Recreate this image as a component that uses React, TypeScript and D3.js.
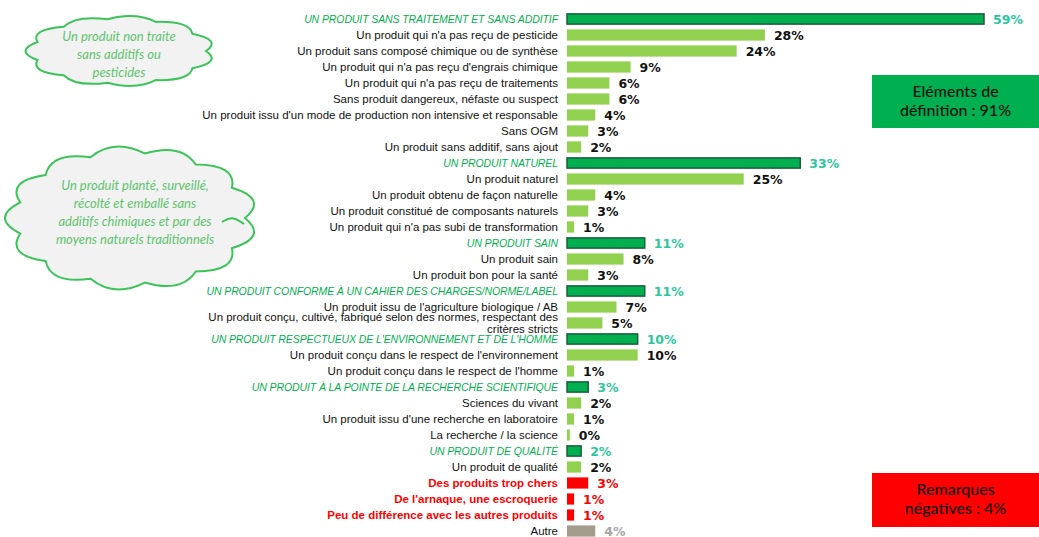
import React, { useRef, useEffect } from "react";
import * as d3 from "d3";

// libellés, valeurs (%) et type de chaque ligne
const labels = [
  "UN PRODUIT SANS TRAITEMENT ET SANS ADDITIF",
  "Un produit qui n'a pas reçu de pesticide",
  "Un produit sans composé chimique ou de synthèse",
  "Un produit qui n'a pas reçu d'engrais chimique",
  "Un produit qui n'a pas reçu de traitements",
  "Sans produit dangereux, néfaste ou suspect",
  "Un produit issu d'un mode de production non intensive et responsable",
  "Sans OGM",
  "Un produit sans additif, sans ajout",
  "UN PRODUIT NATUREL",
  "Un produit naturel",
  "Un produit obtenu de façon naturelle",
  "Un produit constitué de composants naturels",
  "Un produit qui n'a pas subi de transformation",
  "UN PRODUIT SAIN",
  "Un produit sain",
  "Un produit bon pour la santé",
  "UN PRODUIT CONFORME À UN CAHIER DES CHARGES/NORME/LABEL",
  "Un produit issu de l'agriculture biologique / AB",
  "Un produit conçu, cultivé, fabriqué selon des normes, respectant des|critères stricts",
  "UN PRODUIT RESPECTUEUX DE L'ENVIRONNEMENT ET DE L'HOMME",
  "Un produit conçu dans le respect de l'environnement",
  "Un produit conçu dans le respect de l'homme",
  "UN PRODUIT À LA POINTE DE LA RECHERCHE SCIENTIFIQUE",
  "Sciences du vivant",
  "Un produit issu d'une recherche en laboratoire",
  "La recherche / la science",
  "UN PRODUIT DE QUALITÉ",
  "Un produit de qualité",
  "Des produits trop chers",
  "De l'arnaque, une escroquerie",
  "Peu de différence avec les autres produits",
  "Autre",
];
const values = [
  59, 28, 24, 9, 6, 6, 4, 3, 2,
  33, 25, 4, 3, 1,
  11, 8, 3,
  11, 7, 5,
  10, 10, 1,
  3, 2, 1, 0.4,
  2, 2,
  3, 1, 1,
  4,
];
// h = rubrique, s = sous-élément, n = remarque négative, o = autre
const kinds = [
  "h", "s", "s", "s", "s", "s", "s", "s", "s",
  "h", "s", "s", "s", "s",
  "h", "s", "s",
  "h", "s", "s",
  "h", "s", "s",
  "h", "s", "s", "s",
  "h", "s",
  "n", "n", "n",
  "o",
];
const cloud1Lines = ["Un produit non traite", "sans additifs ou", "pesticides"];
const cloud2Lines = [
  "Un produit planté, surveillé,",
  "récolté et emballé sans",
  "additifs chimiques et par des",
  "moyens naturels traditionnels",
];
const box1Lines = ["Eléments de", "définition : 91%"];
const box2Lines = ["Remarques", "négatives : 4%"];

const W = 1039, H = 537;
const barFill = { h: "#00B050", s: "#92D050", n: "#FF0000", o: "#A49C8C" };
const valColor = { h: "#2CC69C", s: "#111", n: "#FF0000", o: "#A6A6A6" };
const labelColor = { h: "#00B050", s: "#111", n: "#FF0000", o: "#111" };

function cloudPath(cx: number, cy: number, rx: number, ry: number, n: number, bulge: number) {
  const p = d3.path();
  const pts = d3.range(n + 1).map((i) => {
    const a = (i / n) * Math.PI * 2;
    return [cx + rx * Math.cos(a), cy + ry * Math.sin(a)];
  });
  p.moveTo(pts[0][0], pts[0][1]);
  for (let i = 0; i < n; i++) {
    const a = ((i + 0.5) / n) * Math.PI * 2;
    p.quadraticCurveTo(cx + rx * bulge * Math.cos(a), cy + ry * bulge * Math.sin(a), pts[i + 1][0], pts[i + 1][1]);
  }
  p.closePath();
  return p.toString();
}

export default function App() {
  const ref = useRef<SVGSVGElement>(null);

  useEffect(() => {
    const svg = d3.select(ref.current);
    svg.selectAll("*").remove();

    const x = d3.scaleLinear().domain([0, 59]).range([567, 984]);
    const y = d3.scaleBand<number>().domain(d3.range(labels.length)).range([11, 11 + 16 * labels.length]).paddingInner(0.3).paddingOuter(0.15);

    // nuages
    const drawCloud = (cx: number, cy: number, rx: number, ry: number, n: number, lines: string[], ty: number, lh: number, tx: number) => {
      svg.append("path")
        .attr("d", cloudPath(cx, cy, rx, ry, n, 1.24))
        .attr("fill", "#F2F2F2")
        .attr("stroke", "#3CC45A")
        .attr("stroke-width", 2);
      lines.forEach((t, i) => {
        svg.append("text")
          .attr("x", tx)
          .attr("y", ty + i * lh)
          .attr("text-anchor", "middle")
          .attr("font-family", "Lato, 'Open Sans', sans-serif")
          .attr("font-style", "italic")
          .attr("font-size", 13)
          .attr("fill", "#5EC46E")
          .text(t);
      });
    };
    drawCloud(120, 51, 86, 32, 11, cloud1Lines, 41, 18, 119);
    drawCloud(131, 218, 114, 65, 13, cloud2Lines, 190, 18, 135);
    // petite volute intérieure du nuage
    const curl = d3.line().curve(d3.curveBasis);
    svg.append("path")
      .attr("d", curl([[222, 222], [232, 216], [244, 224]]))
      .attr("fill", "none").attr("stroke", "#3CC45A").attr("stroke-width", 2);

    // barres
    labels.forEach((lab, i) => {
      const k = kinds[i];
      const v = values[i];
      const yc = (y(i) as number) + y.bandwidth() / 2;
      const isH = k === "h";
      svg.append("rect")
        .attr("x", x(0))
        .attr("y", (y(i) as number) + (isH ? 0.5 : 0))
        .attr("width", x(v) - x(0))
        .attr("height", y.bandwidth() - (isH ? 1 : 0))
        .attr("fill", barFill[k])
        .attr("stroke", isH ? "#1D5E3C" : "none")
        .attr("stroke-width", isH ? 1.5 : 0);
      svg.append("text")
        .attr("x", x(v) + 9)
        .attr("y", yc + 4.5)
        .attr("font-family", "'DejaVu Sans', sans-serif")
        .attr("font-weight", "bold")
        .attr("font-size", 12.5)
        .attr("fill", valColor[k])
        .text(Math.round(v) + "%");

      const parts = lab.split("|");
      const t = svg.append("text")
        .attr("x", 558)
        .attr("text-anchor", "end")
        .attr("font-family", "'Liberation Sans', Arial, sans-serif")
        .attr("font-size", isH ? 10.5 : 11.5)
        .attr("font-style", isH ? "italic" : "normal")
        .attr("font-weight", k === "n" ? "bold" : "normal")
        .attr("letter-spacing", isH ? -0.1 : 0)
        .attr("fill", labelColor[k]);
      parts.forEach((p, j) => {
        t.append("tspan")
          .attr("x", 558)
          .attr("y", yc + 4 + (j - (parts.length - 1) / 2) * 12)
          .text(p);
      });
    });

    // encadrés de synthèse
    const drawBox = (bx: number, by: number, bw: number, bh: number, fill: string, lines: string[]) => {
      svg.append("rect").attr("x", bx).attr("y", by).attr("width", bw).attr("height", bh).attr("fill", fill);
      lines.forEach((t, i) => {
        svg.append("text")
          .attr("x", bx + bw / 2)
          .attr("y", by + 22 + i * 19)
          .attr("text-anchor", "middle")
          .attr("font-family", "Lato, 'Open Sans', sans-serif")
          .attr("font-size", 16)
          .attr("font-weight", 500)
          .attr("fill", "#111")
          .text(t);
      });
    };
    drawBox(872, 75, 167, 53, "#00B050", box1Lines);
    drawBox(872, 473, 167, 54, "#FF0000", box2Lines);
  }, []);

  return (
    <>
      <style>{"body{margin:0}"}</style>
      <svg ref={ref} width={W} height={H} style={{ display: "block", background: "#fff" }} />
    </>
  );
}
